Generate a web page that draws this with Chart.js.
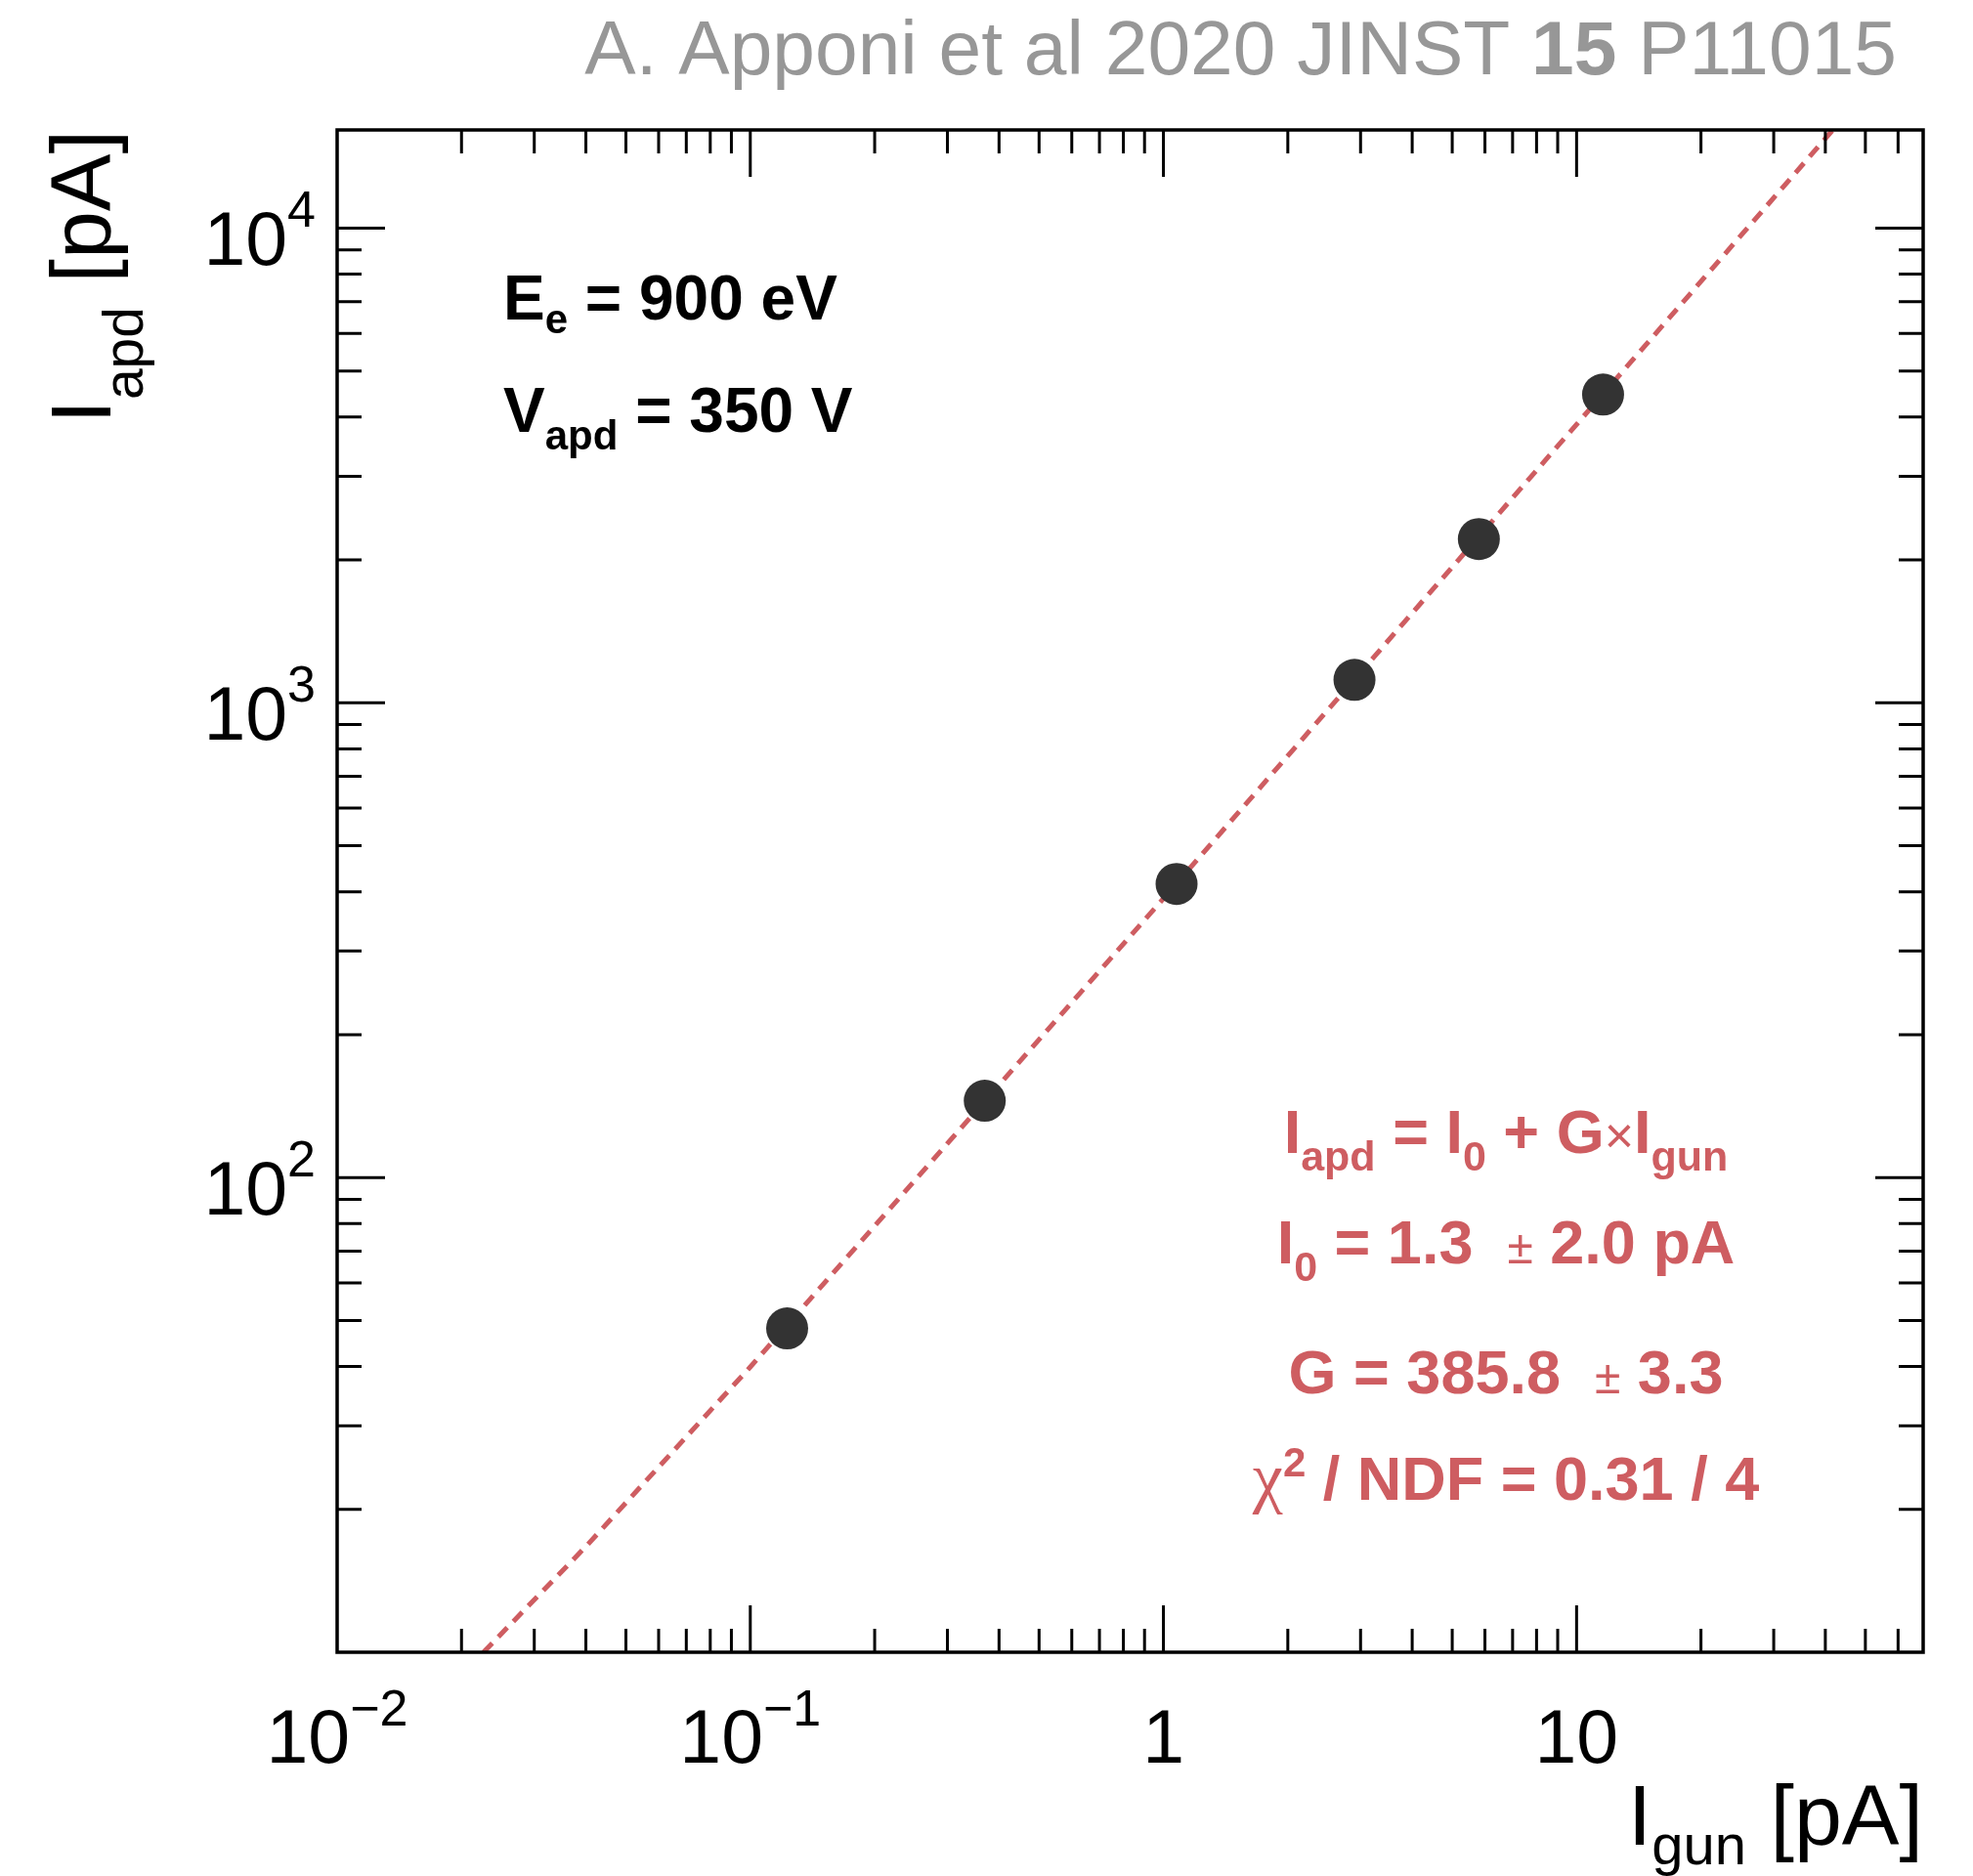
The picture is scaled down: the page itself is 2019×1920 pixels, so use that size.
<!DOCTYPE html>
<html>
<head>
<meta charset="utf-8">
<script src="https://cdn.jsdelivr.net/npm/chart.js@4.4.1/dist/chart.umd.min.js"></script>
<style>
  html, body { margin: 0; padding: 0; background: #ffffff; }
  canvas { display: block; }
</style>
</head>
<body>
<canvas id="gainChart" width="2019" height="1920"></canvas>
<script>
// measured points (I_gun, I_apd) in pA
const gunCurrent = [0.1228, 0.3694, 1.076, 2.90, 5.80, 11.59];
const apdCurrent = [48.1, 145.1, 415.5, 1118, 2213, 4461];

// fit line
const fitGun = [0.0226, 0.04, 0.1, 1, 10, 41.7];
const fitApd = [10, 16.7, 39.9, 387, 3860, 16100];

// axes
const xRange = [0.01, 69];
const yRange = [10, 16100];
const xMajorTicks = [0.01, 0.1, 1, 10];
const xTickLabels = [['10', '\u22122'], ['10', '\u22121'], ['1', ''], ['10', '']];
const yMajorTicks = [100, 1000, 10000];
const yTickLabels = [['10', '2'], ['10', '3'], ['10', '4']];
const minorSteps = [2, 3, 4, 5, 6, 7, 8, 9];

const FONT = "'Liberation Sans', Arial, Helvetica, sans-serif";
const SERIF = "'Liberation Serif', 'Times New Roman', serif";
const RED = '#ce5d61';

function fontOf(p) {
    return (p.bold ? 'bold ' : '') + p.size + 'px ' + (p.family || FONT);
}

// draws a row of text pieces (for sub/superscripts)
function drawRich(ctx, parts, x, y, align, color) {
    let total = 0;
    parts.forEach(p => {
        ctx.font = fontOf(p);
        p.w = ctx.measureText(p.t).width;
        total += p.w;
    });
    let cx = x;
    if (align === 'center') cx = x - total / 2;
    if (align === 'right') cx = x - total;
    ctx.fillStyle = color;
    ctx.textAlign = 'left';
    ctx.textBaseline = 'alphabetic';
    parts.forEach(p => {
        ctx.font = fontOf(p);
        ctx.fillText(p.t, cx, y + (p.dy || 0));
        cx += p.w;
    });
}

const rootFrame = {
    id: 'rootFrame',
    afterDraw(chart) {
        const ctx = chart.ctx;
        const area = chart.chartArea;
        const xs = chart.scales.x;
        const ys = chart.scales.y;
        ctx.save();

        // frame
        ctx.strokeStyle = '#000000';
        ctx.lineWidth = 3.5;
        ctx.strokeRect(area.left, area.top, area.right - area.left, area.bottom - area.top);

        // ticks, inside the frame on all four sides
        ctx.lineWidth = 3;
        const tickX = (v, len) => {
            const px = xs.getPixelForValue(v);
            ctx.beginPath();
            ctx.moveTo(px, area.bottom);
            ctx.lineTo(px, area.bottom - len);
            ctx.moveTo(px, area.top);
            ctx.lineTo(px, area.top + len);
            ctx.stroke();
        };
        const tickY = (v, len) => {
            const py = ys.getPixelForValue(v);
            ctx.beginPath();
            ctx.moveTo(area.left, py);
            ctx.lineTo(area.left + len, py);
            ctx.moveTo(area.right, py);
            ctx.lineTo(area.right - len, py);
            ctx.stroke();
        };
        xMajorTicks.forEach(d => {
            if (d > xRange[0] && d < xRange[1]) tickX(d, 48);
            minorSteps.forEach(m => { if (d * m < xRange[1]) tickX(d * m, 24); });
        });
        [10].concat(yMajorTicks).forEach(d => {
            if (d > yRange[0] && d < yRange[1]) tickY(d, 49);
            minorSteps.forEach(m => { if (d * m < yRange[1]) tickY(d * m, 25); });
        });

        // tick labels
        xMajorTicks.forEach((v, i) => {
            const px = xs.getPixelForValue(v);
            drawRich(ctx, [
                { t: xTickLabels[i][0], size: 77 },
                { t: xTickLabels[i][1], size: 52, dy: -38 }
            ], px, area.bottom + 113, 'center', '#000000');
        });
        yMajorTicks.forEach((v, i) => {
            const py = ys.getPixelForValue(v);
            drawRich(ctx, [
                { t: yTickLabels[i][0], size: 77 },
                { t: yTickLabels[i][1], size: 52, dy: -39 }
            ], area.left - 22, py + 37.5, 'right', '#000000');
        });

        // axis titles
        drawRich(ctx, [
            { t: 'I', size: 88 },
            { t: 'gun', size: 58, dy: 20 },
            { t: ' [pA]', size: 88 }
        ], area.right, 1888, 'right', '#000000');

        ctx.save();
        ctx.translate(113, area.top);
        ctx.rotate(-Math.PI / 2);
        drawRich(ctx, [
            { t: 'I', size: 88 },
            { t: 'apd', size: 57, dy: 33 },
            { t: ' [pA]', size: 88 }
        ], 0, 0, 'right', '#000000');
        ctx.restore();

        // journal header
        drawRich(ctx, [
            { t: 'A. Apponi et al 2020 JINST ', size: 78.5 },
            { t: '15', size: 78.5, bold: true },
            { t: ' P11015', size: 78.5 }
        ], 1941, 76, 'right', '#979797');

        // run conditions
        drawRich(ctx, [
            { t: 'E', size: 64, bold: true },
            { t: 'e', size: 42, bold: true, dy: 14 },
            { t: ' = 900 eV', size: 64, bold: true }
        ], 515, 327, 'left', '#000000');
        drawRich(ctx, [
            { t: 'V', size: 64, bold: true },
            { t: 'apd', size: 42, bold: true, dy: 18 },
            { t: ' = 350 V', size: 64, bold: true }
        ], 515, 442, 'left', '#000000');

        // fit results
        const cx = 1541;
        drawRich(ctx, [
            { t: 'I', size: 63, bold: true },
            { t: 'apd', size: 43, bold: true, dy: 18 },
            { t: ' = I', size: 63, bold: true },
            { t: '0', size: 43, bold: true, dy: 18 },
            { t: ' + G', size: 63, bold: true },
            { t: '\u00d7', size: 52 },
            { t: 'I', size: 63, bold: true },
            { t: 'gun', size: 43, bold: true, dy: 18 }
        ], cx, 1180, 'center', RED);
        drawRich(ctx, [
            { t: 'I', size: 63, bold: true },
            { t: '0', size: 43, bold: true, dy: 18 },
            { t: ' = 1.3  ', size: 63, bold: true },
            { t: '\u00b1', size: 48 },
            { t: ' 2.0 pA', size: 63, bold: true }
        ], cx, 1293, 'center', RED);
        drawRich(ctx, [
            { t: 'G = 385.8  ', size: 63, bold: true },
            { t: '\u00b1', size: 48 },
            { t: ' 3.3', size: 63, bold: true }
        ], cx, 1426, 'center', RED);
        drawRich(ctx, [
            { t: '\u03c7', size: 70, family: SERIF },
            { t: '2', size: 42, bold: true, dy: -24 },
            { t: ' / NDF = 0.31 / 4', size: 63, bold: true }
        ], cx, 1535, 'center', RED);

        ctx.restore();
    }
};

const points = gunCurrent.map((x, i) => ({ x: x, y: apdCurrent[i] }));
const fitLine = fitGun.map((x, i) => ({ x: x, y: fitApd[i] }));

new Chart(document.getElementById('gainChart'), {
    type: 'scatter',
    data: {
        datasets: [
            {
                label: 'data',
                data: points,
                pointRadius: 21.5,
                pointBackgroundColor: '#333333',
                pointBorderWidth: 0,
                showLine: false
            },
            {
                label: 'fit',
                data: fitLine,
                showLine: true,
                pointRadius: 0,
                borderColor: RED,
                borderWidth: 5,
                borderDash: [13, 9],
                clip: 0
            }
        ]
    },
    options: {
        responsive: false,
        devicePixelRatio: 1,
        animation: false,
        layout: { padding: { left: 345, right: 51, top: 133, bottom: 229 } },
        scales: {
            x: { type: 'logarithmic', min: xRange[0], max: xRange[1], display: false },
            y: { type: 'logarithmic', min: yRange[0], max: yRange[1], display: false }
        },
        plugins: {
            legend: { display: false },
            tooltip: { enabled: false }
        }
    },
    plugins: [rootFrame]
});
</script>
</body>
</html>
